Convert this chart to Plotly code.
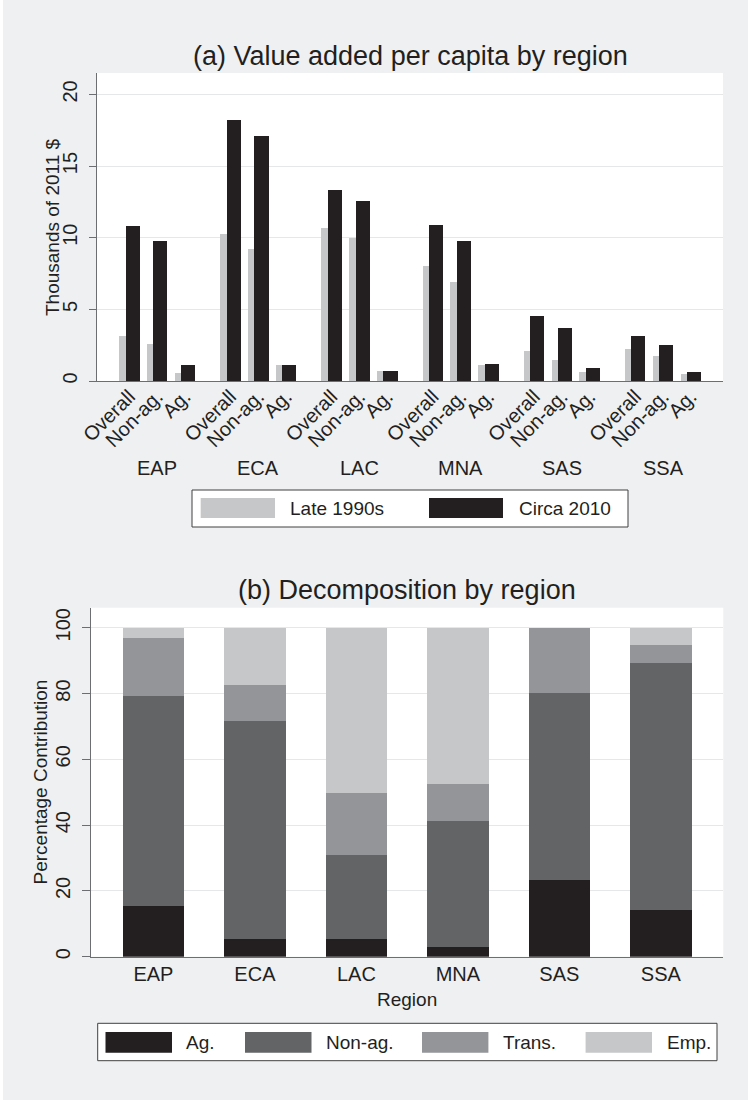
import plotly.graph_objects as go

# ---- data -----------------------------------------------------------------
regions = ["EAP", "ECA", "LAC", "MNA", "SAS", "SSA"]
measures = ["Overall", "Non-ag.", "Ag."]

# value added per capita, thousands of 2011 $ (Overall, Non-ag., Ag.) per region
late_1990s = {
    "EAP": [3.15, 2.6, 0.55],
    "ECA": [10.25, 9.2, 1.1],
    "LAC": [10.7, 10.0, 0.67],
    "MNA": [8.05, 6.93, 1.1],
    "SAS": [2.1, 1.5, 0.6],
    "SSA": [2.2, 1.72, 0.52],
}
circa_2010 = {
    "EAP": [10.8, 9.75, 1.12],
    "ECA": [18.2, 17.1, 1.12],
    "LAC": [13.3, 12.6, 0.72],
    "MNA": [10.9, 9.77, 1.18],
    "SAS": [4.55, 3.7, 0.88],
    "SSA": [3.16, 2.53, 0.65],
}

# percentage contribution to growth, by region
ag_share = [15.4, 5.5, 5.6, 2.9, 23.3, 14.3]
nonag_share = [63.8, 66.1, 25.4, 38.4, 56.9, 75.0]
trans_share = [17.7, 11.2, 18.8, 11.3, 19.8, 5.65]
emp_share = [3.1, 17.2, 50.2, 47.4, 0.0, 5.05]

top_ticks = [0, 5, 10, 15, 20]
bottom_ticks = [0, 20, 40, 60, 80, 100]

# ---- styling ----------------------------------------------------------------
W, H = 748, 1100
FONT = "Liberation Sans, Arial, Helvetica, sans-serif"
TXT = "#231f20"
BG = "#eff0f2"
GRID = "#e6e7e8"
AXIS = "#6d6e71"
C_BLACK = "#231f20"
C_DARK = "#636466"
C_MID = "#939598"
C_LIGHT = "#c6c7c9"


def fx(px):
    return px / W


def fy(py):
    return 1 - py / H


# layout of the grouped bars in panel (a): one unit = spacing between measures
GROUP_STEP = 3.64
BAR_W = 0.504
PAIR_SHIFT = 0.234

dark_x, light_x, tick_x, tick_text = [], [], [], []
dark_y, light_y = [], []
group_centres = []
for g, reg in enumerate(regions):
    for s, m in enumerate(measures):
        xc = g * GROUP_STEP + s
        dark_x.append(xc)
        light_x.append(xc - PAIR_SHIFT)
        tick_x.append(xc - PAIR_SHIFT / 2)
        tick_text.append(m)
        dark_y.append(circa_2010[reg][s])
        light_y.append(late_1990s[reg][s])
    group_centres.append(g * GROUP_STEP + 1 - PAIR_SHIFT / 2)

fig = go.Figure()

fig.add_trace(go.Bar(x=light_x, y=light_y, width=BAR_W, name="Late 1990s",
                     marker=dict(color=C_LIGHT, line=dict(width=0)),
                     xaxis="x", yaxis="y", showlegend=False))
fig.add_trace(go.Bar(x=dark_x, y=dark_y, width=BAR_W, name="Circa 2010",
                     marker=dict(color=C_BLACK, line=dict(width=0)),
                     xaxis="x", yaxis="y", showlegend=False))

idx = list(range(len(regions)))
for name, vals, col in [("Ag.", ag_share, C_BLACK), ("Non-ag.", nonag_share, C_DARK),
                        ("Trans.", trans_share, C_MID), ("Emp.", emp_share, C_LIGHT)]:
    fig.add_trace(go.Bar(x=idx, y=vals, width=0.606, name=name,
                         marker=dict(color=col, line=dict(width=0)),
                         xaxis="x2", yaxis="y2", showlegend=False))

axis_common = dict(showline=True, linecolor=AXIS, linewidth=1, zeroline=False,
                   automargin=False,
                   tickfont=dict(family=FONT, size=20, color=TXT))

fig.update_layout(
    width=W, height=H,
    margin=dict(l=0, r=0, t=0, b=0, autoexpand=False),
    paper_bgcolor=BG, plot_bgcolor="white",
    barmode="stack", bargap=0,
    font=dict(family=FONT, color=TXT, size=19),
    xaxis=dict(domain=[fx(97), fx(723)], range=[-1.277, 21.24], anchor="y",
               tickvals=tick_x, ticktext=tick_text, tickangle=-45, ticks="",
               showgrid=False, ticklabelstandoff=-5, **axis_common),
    yaxis=dict(domain=[fy(381), fy(73)], range=[0, 21.5], anchor="x",
               tickvals=top_ticks, tickangle=-90, ticks="outside", ticklen=7,
               tickcolor=AXIS, showgrid=True, gridcolor=GRID, gridwidth=1,
               ticklabelstandoff=4, **axis_common),
    xaxis2=dict(domain=[fx(91), fx(723.3)], range=[-0.615, 5.615], anchor="y2",
                tickvals=idx, ticktext=regions, ticks="", showgrid=False,
                ticklabelstandoff=-1, **axis_common),
    yaxis2=dict(domain=[fy(956.7), fy(607.7)], range=[0, 106.1], anchor="x2",
                tickvals=bottom_ticks, tickangle=-90, ticks="outside", ticklen=8,
                tickcolor=AXIS, showgrid=True, gridcolor=GRID, gridwidth=1,
                ticklabelstandoff=4, **axis_common),
)

ann = []
# panel titles
ann.append(dict(text="(a) Value added per capita by region", x=fx(410), y=fy(56),
                xref="paper", yref="paper", showarrow=False, xanchor="center",
                yanchor="middle", font=dict(size=27, family=FONT, color=TXT)))
ann.append(dict(text="(b) Decomposition by region", x=fx(407), y=fy(590),
                xref="paper", yref="paper", showarrow=False, xanchor="center",
                yanchor="middle", font=dict(size=27, family=FONT, color=TXT)))
# axis titles
ann.append(dict(text="Thousands of 2011 $", x=fx(53), y=fy(227), textangle=-90,
                xref="paper", yref="paper", showarrow=False, xanchor="center",
                yanchor="middle", font=dict(size=19, family=FONT, color=TXT)))
ann.append(dict(text="Percentage Contribution", x=fx(39.5), y=fy(782), textangle=-90,
                xref="paper", yref="paper", showarrow=False, xanchor="center",
                yanchor="middle", font=dict(size=19, family=FONT, color=TXT)))
ann.append(dict(text="Region", x=fx(407), y=fy(999),
                xref="paper", yref="paper", showarrow=False, xanchor="center",
                yanchor="middle", font=dict(size=19, family=FONT, color=TXT)))
# region names under panel (a)
for reg, xc in zip(regions, group_centres):
    ann.append(dict(text=reg, x=xc, y=fy(468), xref="x", yref="paper",
                    showarrow=False, xanchor="center", yanchor="middle",
                    font=dict(size=20, family=FONT, color=TXT)))

shapes = [
    # thin white strip along the left edge
    dict(type="rect", xref="paper", yref="paper", x0=0, x1=fx(3), y0=0, y1=1,
         fillcolor="white", line=dict(width=0), layer="below"),
]


def legend_box(x0, x1, y0, y1, items):
    shapes.append(dict(type="rect", xref="paper", yref="paper",
                       x0=fx(x0), x1=fx(x1), y0=fy(y1), y1=fy(y0),
                       fillcolor="white", line=dict(color="#404041", width=1)))
    for (sx0, sx1, sy0, sy1, col, tx, label) in items:
        shapes.append(dict(type="rect", xref="paper", yref="paper",
                           x0=fx(sx0), x1=fx(sx1), y0=fy(sy1), y1=fy(sy0),
                           fillcolor=col, line=dict(width=0)))
        ann.append(dict(text=label, x=fx(tx), y=fy((sy0 + sy1) / 2),
                        xref="paper", yref="paper", showarrow=False,
                        xanchor="left", yanchor="middle",
                        font=dict(size=19, family=FONT, color=TXT)))


legend_box(192, 628, 490, 527, [
    (200.7, 275, 498, 518, C_LIGHT, 288, "Late 1990s"),
    (429, 503, 498, 518, C_BLACK, 517, "Circa 2010"),
])
legend_box(97.7, 717, 1023.3, 1060.7, [
    (105.5, 172, 1032, 1052.7, C_BLACK, 184, "Ag."),
    (245, 311.5, 1032, 1052.7, C_DARK, 323.5, "Non-ag."),
    (422, 488.4, 1032, 1052.7, C_MID, 500.5, "Trans."),
    (585.6, 652, 1032, 1052.7, C_LIGHT, 664.5, "Emp."),
])

fig.update_layout(annotations=ann, shapes=shapes)

fig.write_html("out.html")
